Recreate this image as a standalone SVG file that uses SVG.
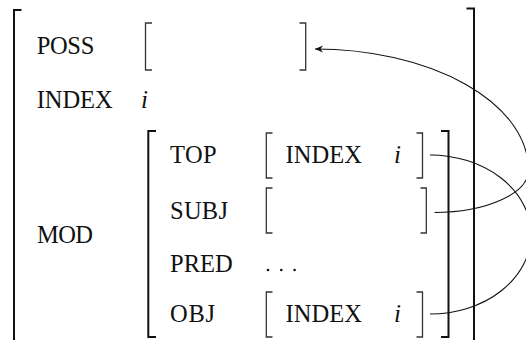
<svg xmlns="http://www.w3.org/2000/svg" width="526" height="340" viewBox="0 0 526 340">
<style>
text{font-family:"Liberation Serif","Times New Roman",serif;font-size:24.5px;fill:#111}
.it{font-style:italic;font-size:25px}
.big{fill:none;stroke:#111;stroke-width:2}
.sm{fill:none;stroke:#333;stroke-width:1.3}
.conn{fill:none;stroke:#111;stroke-width:1.1}
</style>
<defs>
<marker id="ah" markerUnits="userSpaceOnUse" markerWidth="12" markerHeight="10" viewBox="-10 -5 12 10" refX="0" refY="0" orient="auto">
<path d="M0,0 L-8,-3.6 L-5.5,0 L-8,3.6 Z" fill="#111"/>
</marker>
</defs>
<g id="outer">
<path class="big" d="M21.5,10 H14 V340"/>
<path class="big" d="M466.5,8.5 H474 V340"/>
</g>
<g id="poss">
<text x="36.7" y="54" textLength="57.6">POSS</text>
<path class="sm" d="M152,23 H145.5 V70 H152"/>
<path class="sm" d="M299.5,23 H305.7 V70 H299.5"/>
</g>
<g id="index">
<text x="36.7" y="108" textLength="76">INDEX</text>
<text class="it" x="141" y="108">i</text>
</g>
<g id="mod">
<text x="37" y="243" textLength="56">MOD</text>
<path class="big" d="M156,131 H148.3 V337 H156"/>
<path class="big" d="M441,131 H448.5 V337 H441"/>
</g>
<g id="top">
<text x="170" y="163" textLength="46.7">TOP</text>
<path class="sm" d="M272.5,133 H266.3 V178 H272.5"/>
<text x="285.5" y="163" textLength="76.5">INDEX</text>
<text class="it" x="394" y="163">i</text>
<path class="sm" d="M416.5,133 H422.5 V178 H416.5"/>
</g>
<g id="subj">
<text x="170" y="219" textLength="58">SUBJ</text>
<path class="sm" d="M272.5,188 H266.3 V233 H272.5"/>
<path class="sm" d="M420.5,188 H426.3 V233 H420.5"/>
</g>
<g id="pred">
<text x="170" y="272" textLength="62.7">PRED</text>
<circle cx="268" cy="270" r="1.3" fill="#111"/>
<circle cx="281.3" cy="270" r="1.3" fill="#111"/>
<circle cx="294.6" cy="270" r="1.3" fill="#111"/>
</g>
<g id="obj">
<text x="170" y="322" textLength="45">OBJ</text>
<path class="sm" d="M272.5,292 H266.3 V337 H272.5"/>
<text x="285.5" y="322" textLength="76.5">INDEX</text>
<text class="it" x="394" y="322">i</text>
<path class="sm" d="M416.5,292 H422.5 V337 H416.5"/>
</g>
<g id="connectors">
<path class="conn" d="M434.5,212.5 A94,42.5 0 0 0 528.5,170 A213.5,121 0 0 0 315,49" marker-end="url(#ah)"/>
<path class="conn" d="M430,155 A101,79.5 0 0 1 430,314"/>
</g>
</svg>
